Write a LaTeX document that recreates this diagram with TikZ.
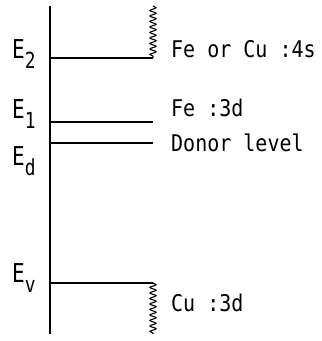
\documentclass[tikz,border=0pt]{standalone}
\usepackage{fontspec}
\setmainfont{DejaVu Sans Mono}
\usetikzlibrary{decorations.pathmorphing}
\newcommand{\tallt}[1]{\scalebox{1}[1.15]{#1}}
\newcommand{\elev}[1]{\scalebox{1.05}[1.3]{E\raisebox{-0.4em}{\fontsize{17}{17}\selectfont #1}}}
\begin{document}
\begin{tikzpicture}[x=1pt,y=-1pt,
  lvl/.style={line width=1.3pt},
  wav/.style={line width=1.1pt,decorate,decoration={snake,segment length=5.5pt,amplitude=3pt}},
  lab/.style={anchor=base west,inner sep=0pt,font=\fontsize{20}{20}\selectfont},
  elab/.style={anchor=base west,inner sep=0pt,font=\fontsize{20}{20}\selectfont}]
\useasboundingbox (0,0) rectangle (322,341);
\coordinate (top) at (50,6);
\coordinate (bot) at (50,334);
\draw[line width=1.3pt] (top) -- (bot);
\coordinate (e2a) at (50,58); \coordinate (e2b) at (153,58);
\coordinate (e1a) at (50,122); \coordinate (e1b) at (153,122);
\coordinate (eda) at (50,143); \coordinate (edb) at (153,143);
\coordinate (eva) at (50,283); \coordinate (evb) at (153,283);
\coordinate (w1) at (153,6); \coordinate (w2) at (153,334);
\draw[lvl] (e2a) -- (e2b);
\draw[lvl] (e1a) -- (e1b);
\draw[lvl] (eda) -- (edb);
\draw[lvl] (eva) -- (evb);
\draw[wav] (w1) -- (e2b);
\draw[wav] (evb) -- (w2);
\node[elab] (E2) at (12,58) {\elev{2}};
\node[elab] (E1) at (12,118) {\elev{1}};
\node[elab] (Ed) at (12,165) {\elev{d}};
\node[elab] (Ev) at (12,282) {\elev{v}};
\node[lab] (t1) at (171,57) {\tallt{Fe or Cu :4s}};
\node[lab] (t2) at (171,116) {\tallt{Fe :3d}};
\node[lab] (t3) at (171,151) {\tallt{Donor level}};
\node[lab] (t4) at (171,311) {\tallt{Cu :3d}};
\end{tikzpicture}
\end{document}
